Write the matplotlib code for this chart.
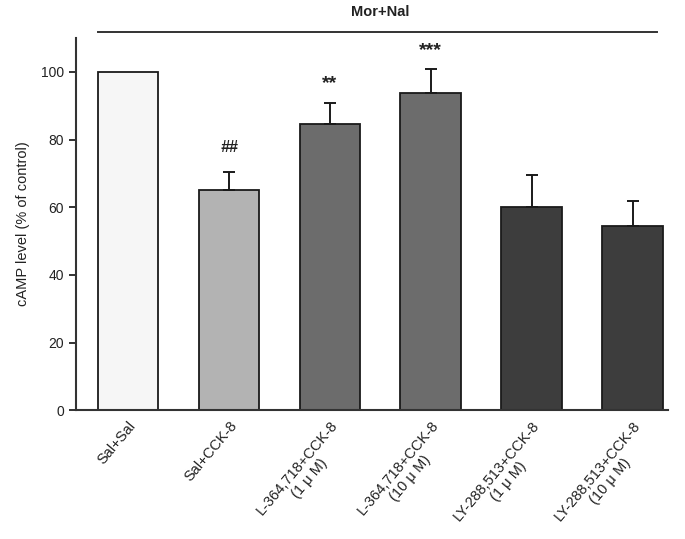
import matplotlib
matplotlib.use("Agg")
import matplotlib.pyplot as plt
import numpy as np

categories = ["Sal+Sal", "Sal+CCK-8", "L-364,718+CCK-8\n(1 \u03bc M)", "L-364,718+CCK-8\n(10 \u03bc M)",
              "LY-288,513+CCK-8\n(1 \u03bc M)", "LY-288,513+CCK-8\n(10 \u03bc M)"]
values = [100, 65, 84.6, 93.8, 60, 54.4]
errors = [0, 5.4, 6.2, 7.1, 9.5, 7.4]
marks = ["", "##", "**", "***", "", ""]
mark_y = [0, 77.5, 96.5, 106.3, 0, 0]
colors = ["#f6f6f6", "#b3b3b3", "#6c6c6c", "#6c6c6c", "#3d3d3d", "#3d3d3d"]

plt.rcParams['font.family'] = ['Liberation Sans', 'DejaVu Sans']
fig = plt.figure(figsize=(6.85, 5.39), dpi=100)
ax = fig.add_axes([0.111, 0.239, 0.864, 0.6905])
x = np.arange(len(categories))
ax.bar(x, values, width=0.6, color=colors, edgecolor="#1a1a1a", linewidth=1.3, zorder=2)
for xi, v, e in zip(x, values, errors):
    if e > 0:
        ax.errorbar(xi, v, yerr=[[0], [e]], color="#1a1a1a", capsize=4, elinewidth=1.4, capthick=1.4, zorder=3)
for xi, my, m in zip(x, mark_y, marks):
    if m:
        if "*" in m:
            ax.text(xi, my, m, ha="center", va="center", fontsize=14, fontweight="bold", color="#222222")
        else:
            ax.text(xi, my, m, ha="center", va="center", fontsize=11.5, fontweight="bold",
                    fontstyle="italic", color="#222222")

ax.set_xlim(-0.515, 5.35)
ax.set_ylim(0, 110)
ax.set_yticks([0, 20, 40, 60, 80, 100])
ax.tick_params(axis='y', direction='out', length=5, width=1.3, labelsize=10, colors="#222222")
ax.tick_params(axis='x', length=0, pad=6)
ax.set_xticks(x)
ax.set_xticklabels(categories, rotation=50, ha="right", rotation_mode="anchor", fontsize=10.5,
                   multialignment="center", color="#222222")
ax.spines['top'].set_visible(False)
ax.spines['right'].set_visible(False)
ax.spines['left'].set_linewidth(1.5)
ax.spines['bottom'].set_linewidth(1.5)
ax.spines['left'].set_color("#333333")
ax.spines['bottom'].set_color("#333333")
ax.set_ylabel("cAMP level (% of control)", fontsize=10.5, labelpad=8, color="#222222")

ax.plot([-0.3, 5.24], [111.8, 111.8], color="#333333", linewidth=1.4, clip_on=False)
ax.text(2.5, 115.5, "Mor+Nal", ha="center", va="bottom", fontsize=10.5, fontweight="bold", color="#222222")

fig.savefig("out.png", dpi=100)
